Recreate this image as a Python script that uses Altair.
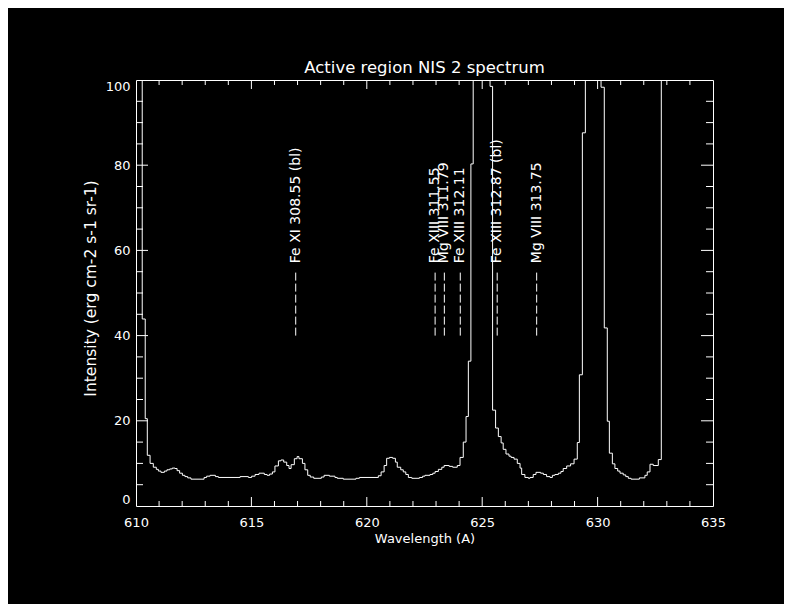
import altair as alt
import pandas as pd

# ---- spectrum: left edges of each step (Angstrom) and the intensity of that step ----
edges = [
    610.00, 610.27, 610.40, 610.49, 610.61, 610.75, 610.88, 610.97, 611.08, 611.23,
    611.34, 611.46, 611.57, 611.69, 611.78, 611.89, 612.01, 612.12, 612.24, 612.38,
    612.95, 613.06, 613.21, 613.44, 613.57, 614.51, 614.87, 615.01, 615.16, 615.33,
    615.56, 615.68, 615.79, 615.91, 616.02, 616.17, 616.28, 616.40, 616.53, 616.63,
    616.72, 616.86, 616.98, 617.06, 617.21, 617.32, 617.44, 617.55, 617.70, 618.03,
    618.15, 618.38, 618.62, 618.72, 618.98, 619.53, 619.68, 620.50, 620.62, 620.75,
    620.86, 620.98, 621.12, 621.24, 621.32, 621.47, 621.58, 621.69, 621.80, 621.95,
    622.28, 622.42, 622.52, 622.74, 622.86, 622.96, 623.10, 623.25, 623.35, 623.57,
    623.72, 623.92, 624.04, 624.18, 624.30, 624.40, 624.51, 624.61, 625.34, 625.45,
    625.58, 625.70, 625.82, 625.91, 626.03, 626.16, 626.25, 626.38, 626.52, 626.64,
    626.71, 626.85, 627.00, 627.07, 627.21, 627.33, 627.53, 627.65, 627.79, 627.94,
    628.04, 628.15, 628.30, 628.41, 628.51, 628.66, 628.83, 628.98, 629.12, 629.21,
    629.34, 629.47, 630.15, 630.29, 630.42, 630.51, 630.64, 630.75, 630.87, 630.97,
    631.11, 631.22, 631.33, 631.45, 631.81, 632.05, 632.15, 632.27, 632.41, 632.63,
    632.76,
]
intensity = [
    150.0, 43.9, 20.5, 11.9, 10.0, 9.1, 8.6, 8.2, 7.9, 8.2,
    8.5, 8.7, 8.9, 8.8, 8.3, 7.7, 7.2, 6.9, 6.6, 6.3,
    6.7, 7.0, 7.2, 6.9, 6.7, 6.9, 6.7, 7.0, 7.4, 7.7,
    7.4, 7.2, 7.5, 8.0, 9.4, 10.6, 10.8, 10.3, 9.5, 8.8,
    9.7, 11.1, 11.6, 11.1, 10.0, 8.5, 7.2, 6.8, 6.5, 6.8,
    7.2, 7.0, 6.7, 6.5, 6.3, 6.5, 6.7, 7.1, 8.0, 9.5,
    11.2, 11.4, 11.2, 10.3, 9.1, 8.5, 8.0, 7.4, 6.7, 6.5,
    6.7, 7.0, 7.2, 7.4, 7.7, 8.1, 8.6, 9.1, 9.5, 9.3,
    9.1, 9.5, 11.4, 15.0, 21.0, 34.0, 80.3, 150.0, 98.5, 22.5,
    18.3, 16.3, 14.8, 13.3, 12.2, 11.7, 11.4, 11.0, 10.0, 8.9,
    7.4, 6.7, 6.5, 6.7, 7.4, 7.9, 7.7, 7.4, 6.9, 6.7,
    7.2, 7.4, 7.7, 8.1, 8.8, 9.4, 9.9, 11.0, 14.9, 30.8,
    87.6, 150.0, 98.3, 41.8, 19.9, 12.4, 9.9, 8.8, 8.2, 7.7,
    7.3, 6.9, 6.5, 6.3, 6.6, 7.2, 8.0, 9.8, 9.5, 10.9,
    150.0,
]
last_edge = 632.88

# ---- line identifications ----
line_names = [
    "Fe XI 308.55 (bl)", "Fe XIII 311.55", "Mg VIII 311.79",
    "Fe XIII 312.11", "Fe XIII 312.87 (bl)", "Mg VIII 313.75",
]
line_waves = [616.92, 622.96, 623.36, 624.05, 625.65, 627.36]
marker_low, marker_high, label_level = 40.0, 55.5, 57.0

# ---- axis ticks ----
x_labels = [610, 615, 620, 625, 630, 635]
x_major = [615, 620, 625, 630]
x_minor = [v for v in range(611, 635) if v % 5]
y_labels = [0, 20, 40, 60, 80, 100]
y_major = [20, 40, 60, 80]
y_minor = [v for v in range(5, 100, 5) if v % 20]

W, H = 577, 426
FONT = "DejaVu Sans"

spec_df = pd.DataFrame({"wl": edges + [last_edge], "I": intensity + [intensity[-1]]})
ann_df = pd.DataFrame({
    "wl": line_waves, "name": line_names,
    "I": [marker_low] * len(line_waves), "I2": [marker_high] * len(line_waves),
    "Ilab": [label_level] * len(line_waves),
})
xmaj_df = pd.DataFrame({"wl": x_major})
xmin_df = pd.DataFrame({"wl": x_minor})
ymaj_df = pd.DataFrame({"I": y_major})
ymin_df = pd.DataFrame({"I": y_minor})

xs = alt.Scale(domain=[610, 635], nice=False, zero=False)
ys = alt.Scale(domain=[0, 100], nice=False, zero=False)

x_axis = alt.Axis(
    values=x_labels, ticks=False, tickSize=0, domain=False, grid=False,
    labelColor="white", labelFont=FONT, labelFontSize=13, labelPadding=10,
    labelFlush=False, format="d",
    title="Wavelength (A)", titleColor="white", titleFont=FONT, titleFontSize=13,
    titleFontWeight="normal", titleY=32, titleBaseline="middle",
)
y_axis = alt.Axis(
    values=y_labels, ticks=False, tickSize=0, domain=False, grid=False,
    labelColor="white", labelFont=FONT, labelFontSize=13, labelPadding=6,
    labelFlush=True, format="d",
    title="Intensity (erg cm-2 s-1 sr-1)", titleColor="white", titleFont=FONT,
    titleFontSize=15.5, titleFontWeight="normal", titleX=-46, titleY=208,
    titleAngle=270, titleAlign="center", titleBaseline="middle",
)

def X(field="wl"):
    return alt.X(f"{field}:Q", scale=xs, axis=x_axis)

def Y(field="I"):
    return alt.Y(f"{field}:Q", scale=ys, axis=y_axis)

spectrum = alt.Chart(spec_df).mark_line(
    interpolate="step-after", color="white", strokeWidth=1, clip=True
).encode(x=X(), y=Y())

markers = alt.Chart(ann_df).mark_rule(
    color="white", strokeWidth=1, strokeDash=[8, 3]
).encode(x=X(), y=Y(), y2="I2:Q")

labels = alt.Chart(ann_df).mark_text(
    color="white", font=FONT, fontSize=14, angle=270, align="left", baseline="middle"
).encode(x=X(), y=Y("Ilab"), text="name:N")

tick_style = dict(color="white", strokeWidth=1)
xmaj_b = alt.Chart(xmaj_df).mark_rule(**tick_style).encode(x=X(), y=alt.value(H), y2=alt.value(H - 9))
xmaj_t = alt.Chart(xmaj_df).mark_rule(**tick_style).encode(x=X(), y=alt.value(0), y2=alt.value(9))
xmin_b = alt.Chart(xmin_df).mark_rule(**tick_style).encode(x=X(), y=alt.value(H), y2=alt.value(H - 5))
xmin_t = alt.Chart(xmin_df).mark_rule(**tick_style).encode(x=X(), y=alt.value(0), y2=alt.value(5))
ymaj_l = alt.Chart(ymaj_df).mark_rule(**tick_style).encode(y=Y(), x=alt.value(0), x2=alt.value(12))
ymaj_r = alt.Chart(ymaj_df).mark_rule(**tick_style).encode(y=Y(), x=alt.value(W), x2=alt.value(W - 12))
ymin_l = alt.Chart(ymin_df).mark_rule(**tick_style).encode(y=Y(), x=alt.value(0), x2=alt.value(7))
ymin_r = alt.Chart(ymin_df).mark_rule(**tick_style).encode(y=Y(), x=alt.value(W), x2=alt.value(W - 7))

chart = alt.layer(
    spectrum, markers, labels,
    xmaj_b, xmaj_t, xmin_b, xmin_t, ymaj_l, ymaj_r, ymin_l, ymin_r,
).properties(
    width=W, height=H,
    title=alt.TitleParams(
        "Active region NIS 2 spectrum", color="white", font=FONT, fontSize=16.5,
        fontWeight="normal", anchor="middle", frame="group", offset=-10,
        baseline="alphabetic",
    ),
    padding={"left": 128, "top": 72, "right": 71, "bottom": 98},
    autosize=alt.AutoSizeParams(type="none"),
).configure(background="black").configure_view(stroke="white", strokeWidth=1)

chart.save("out.html", embed_options={"renderer": "svg", "actions": False})
